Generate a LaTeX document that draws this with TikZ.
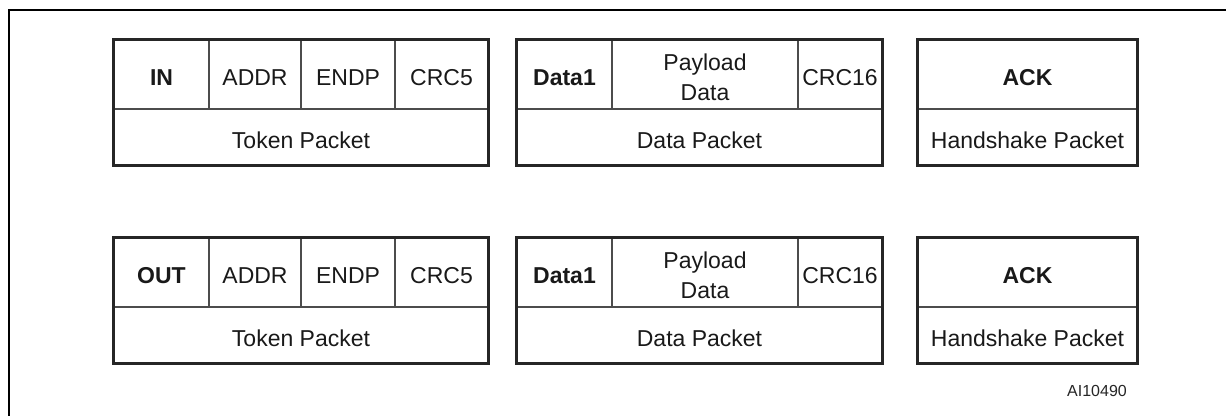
\documentclass[tikz,border=0pt]{standalone}
\usepackage{fontspec}
\setmainfont{Liberation Sans}
\usetikzlibrary{fit}
\newcommand\fsz{\fontsize{23}{29}\selectfont}
\tikzset{
  frameline/.style={line width=2pt, draw=black},
  pbox/.style={draw=black!85, line width=3pt, inner sep=0pt},
  cell/.style={draw=black!70, line width=1.1pt, inner sep=0pt},
  ctext/.style={font=\fsz, text=black!90, inner sep=0pt, yshift=-3pt},
  htext/.style={ctext, font=\fsz\bfseries},
}
\newcommand{\pcell}[7][ctext]{\node[cell, fit={(#3,#4) (#5,#6)}] (#2) {};
  \node[#1] (#2t) at (#2.center) {#7};}
\begin{document}
\begin{tikzpicture}[x=1pt,y=-1pt]
\useasboundingbox (0,0) rectangle (1226,415);
\coordinate (fb) at (9,430);
\coordinate (fc) at (9,10);
\coordinate (fr) at (1240,10);
\draw[frameline] (fb) -- (fc) -- (fr);
\foreach \r/\dy/\t in {A/0/IN, B/198/OUT}{
  % token packet
  \pcell[htext]{tok\r1}{114}{40+\dy}{209}{109+\dy}{\t}
  \pcell{tok\r2}{209}{40+\dy}{301}{109+\dy}{ADDR}
  \pcell{tok\r3}{301}{40+\dy}{395}{109+\dy}{ENDP}
  \pcell{tok\r4}{395}{40+\dy}{488}{109+\dy}{CRC5}
  \pcell{tok\r L}{114}{109+\dy}{488}{165+\dy}{Token Packet}
  \node[pbox, fit=(tok\r1) (tok\r4) (tok\r L)] (tok\r) {};
  % data packet
  \pcell[htext]{dat\r1}{517}{40+\dy}{612}{109+\dy}{Data1}
  \pcell[{ctext,align=center}]{dat\r2}{612}{40+\dy}{798}{109+\dy}{Payload\\[1pt]Data}
  \pcell{dat\r3}{798}{40+\dy}{882}{109+\dy}{CRC16}
  \pcell{dat\r L}{517}{109+\dy}{882}{165+\dy}{Data Packet}
  \node[pbox, fit=(dat\r1) (dat\r3) (dat\r L)] (dat\r) {};
  % handshake packet
  \pcell[htext]{ack\r1}{918}{40+\dy}{1137}{109+\dy}{ACK}
  \pcell{ack\r L}{918}{109+\dy}{1137}{165+\dy}{Handshake Packet}
  \node[pbox, fit=(ack\r1) (ack\r L)] (ack\r) {};
}
\node[font=\fontsize{16}{19}\selectfont, text=black!85] (code) at (1097,391) {AI10490};
\end{tikzpicture}
\end{document}
